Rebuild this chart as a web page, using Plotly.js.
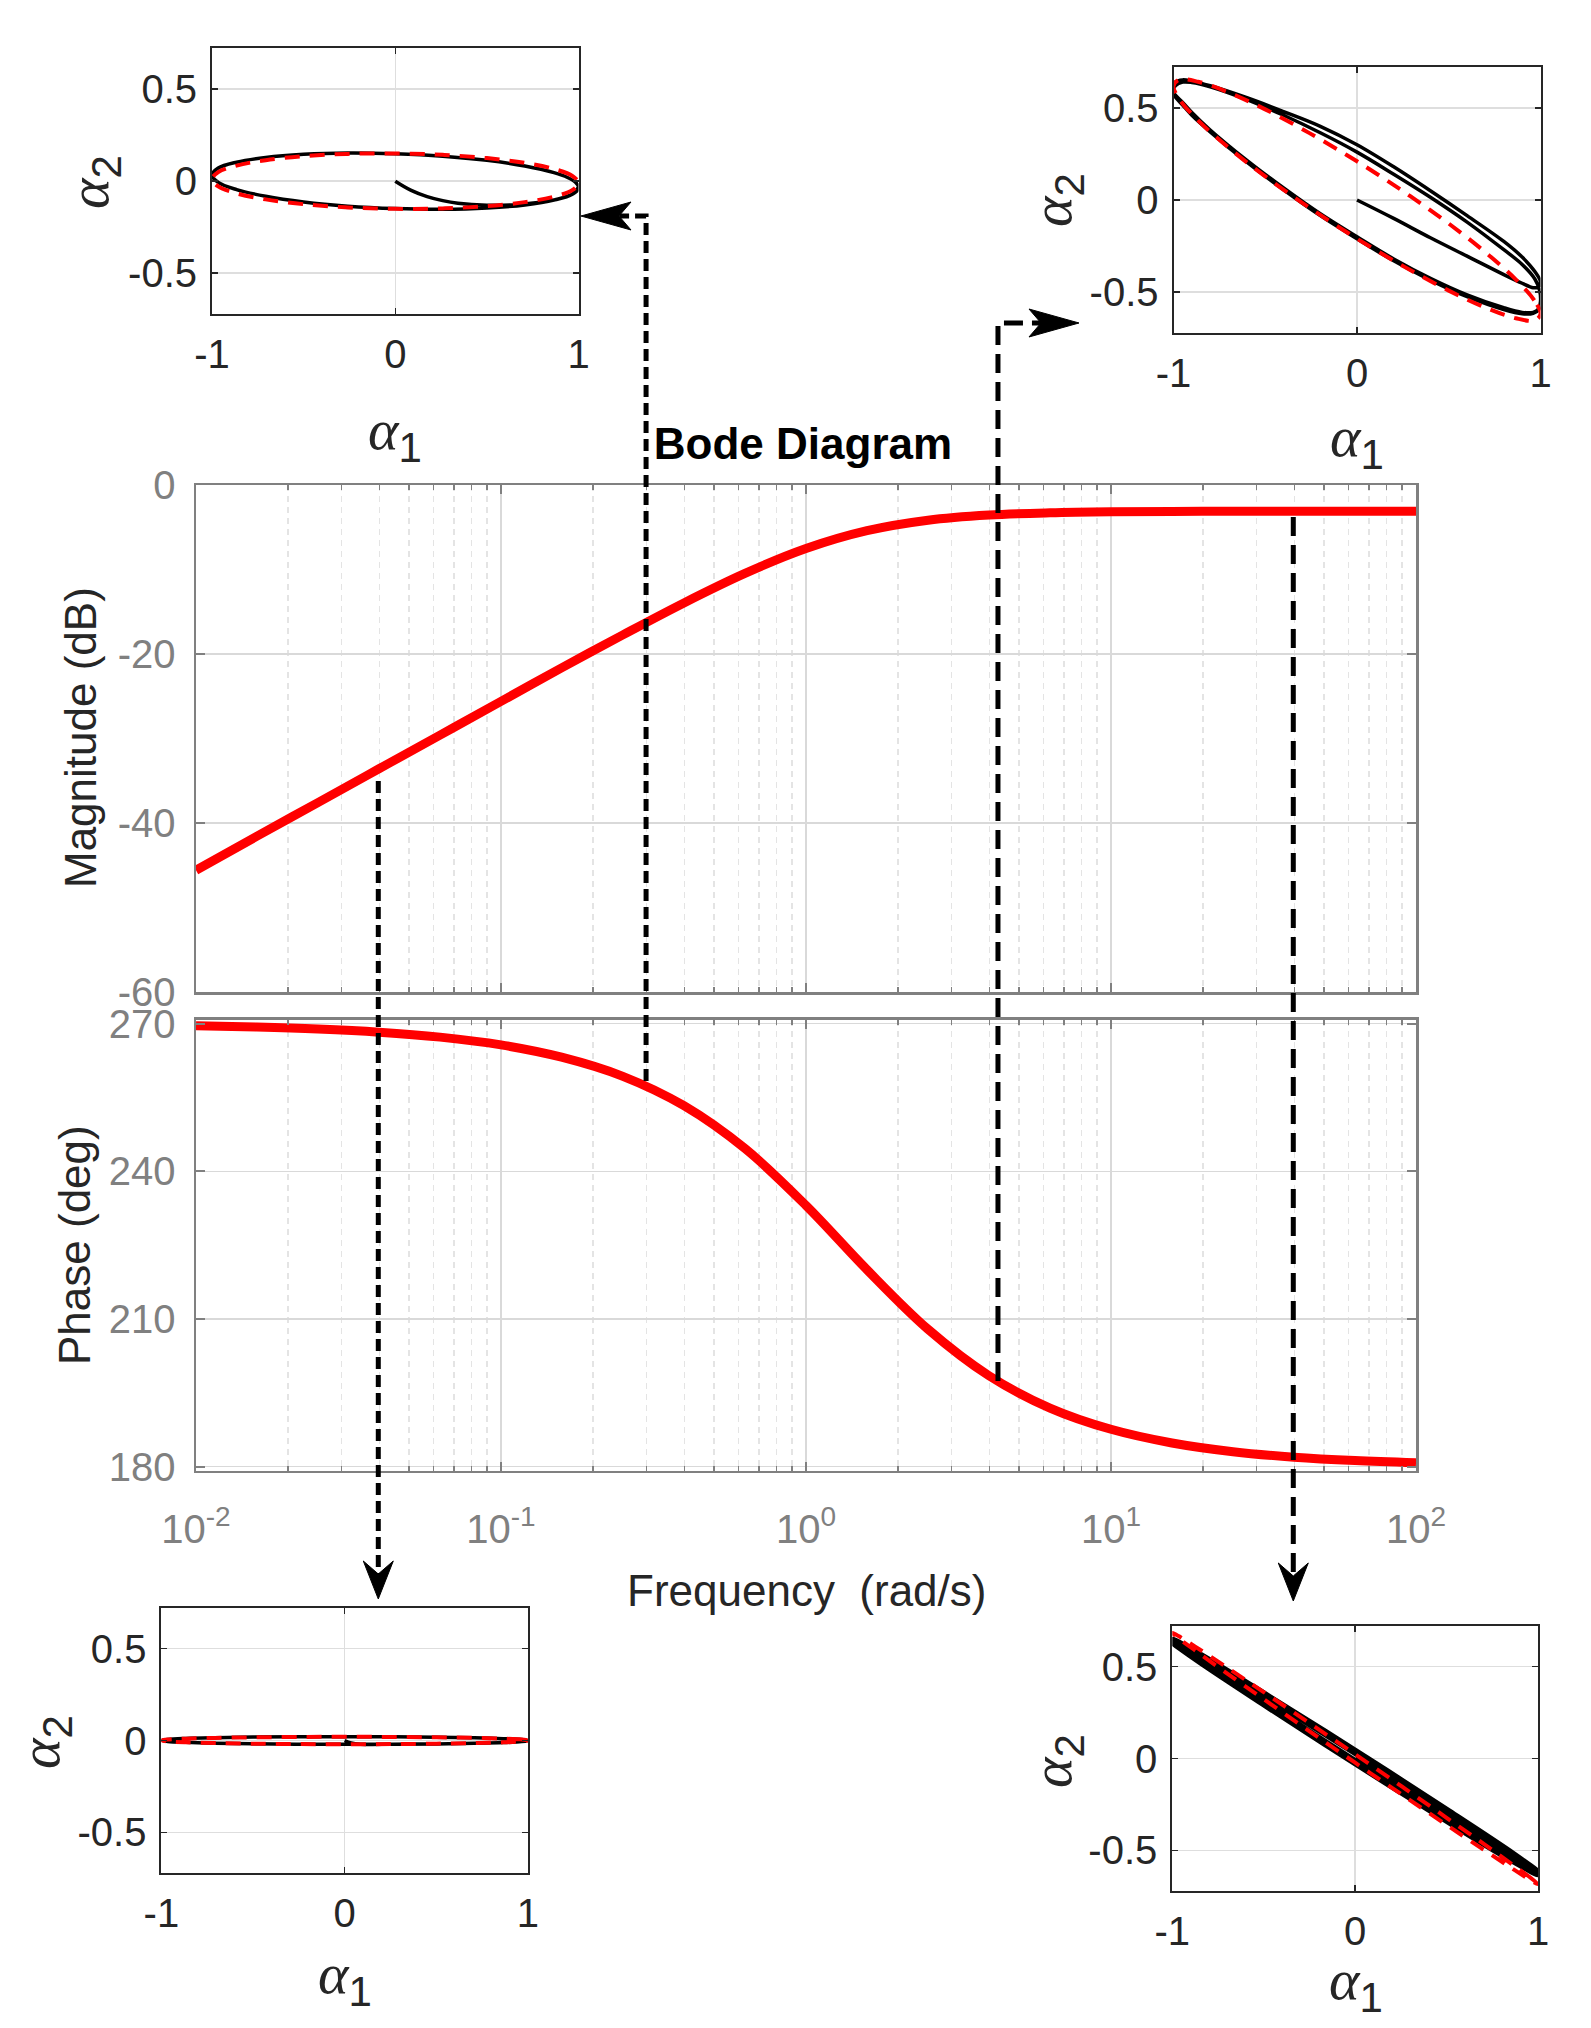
<!DOCTYPE html>
<html>
<head>
<meta charset="utf-8">
<script src="https://cdn.plot.ly/plotly-3.0.1.min.js"></script>
<style>html,body{margin:0;padding:0;background:#ffffff;}</style>
</head>
<body>
<div id="chart" style="width:1591px;height:2028px;"></div>
<script>
// ---------------- Bode data ----------------
const freq = [0.01, 0.0158, 0.0251, 0.0398, 0.0631, 0.1, 0.158, 0.251, 0.398, 0.631, 1, 1.585, 2.512, 3.981, 6.31, 10, 15.85, 25.12, 39.81, 63.1, 100];
const magDb = [-45.58, -41.58, -37.58, -33.58, -29.59, -25.60, -21.64, -17.73, -13.95, -10.46, -7.52, -5.41, -4.17, -3.56, -3.29, -3.17, -3.13, -3.11, -3.10, -3.10, -3.10];
const phaseDeg = [269.57, 269.32, 268.92, 268.29, 267.28, 265.70, 263.20, 259.31, 253.34, 244.62, 233.06, 220.00, 207.91, 198.47, 191.90, 187.58, 184.80, 183.03, 181.91, 181.21, 180.76];

// frequencies at which the phase portraits were taken
const markerFreqs = [0.0396, 0.299, 4.26, 39.6];

// tick labels
const freqTickVals = [0.01, 0.1, 1, 10, 100];
const freqTickText = ['10<sup>-2</sup>', '10<sup>-1</sup>', '10<sup>0</sup>', '10<sup>1</sup>', '10<sup>2</sup>'];
const magTickVals = [-60, -40, -20, 0];
const magTickText = ['-60', '-40', '-20', '0'];
const phaseTickVals = [180, 210, 240, 270];
const phaseTickText = ['180', '210', '240', '270'];
const a1TickVals = [-1, 0, 1];
const a1TickText = ['-1', '0', '1'];
const a2TickVals = [-0.5, 0, 0.5];
const a2TickText = ['-0.5', '0', '0.5'];

// ---------------- phase portraits (alpha1, alpha2) ----------------
// top-left (w ~ 0.3 rad/s)
const tlBlackX = [0, 0.087, 0.174, 0.259, 0.342, 0.5, 0.643, 0.766, 0.866, 0.94, 0.985, 1, 0.985, 0.94, 0.866, 0.707, 0.5, 0.259, 0, -0.259, -0.5, -0.707, -0.866, -0.966, -1, -0.966, -0.866, -0.707, -0.5, -0.259, 0, 0.259, 0.5, 0.707, 0.866, 0.966, 1];
const tlBlackY = [0, -0.050, -0.084, -0.106, -0.120, -0.131, -0.129, -0.118, -0.102, -0.082, -0.059, -0.033, -0.007, 0.020, 0.046, 0.082, 0.113, 0.136, 0.149, 0.153, 0.146, 0.129, 0.103, 0.071, 0.033, -0.007, -0.046, -0.082, -0.113, -0.136, -0.149, -0.153, -0.146, -0.129, -0.103, -0.071, -0.033];
const tlRedX = [1, 0.966, 0.866, 0.707, 0.5, 0.259, 0, -0.259, -0.5, -0.707, -0.866, -0.966, -1, -0.966, -0.866, -0.707, -0.5, -0.259, 0, 0.259, 0.5, 0.707, 0.866, 0.966, 1];
const tlRedY = [-0.0105, 0.0288, 0.0662, 0.0991, 0.1252, 0.1428, 0.1506, 0.1482, 0.1357, 0.1140, 0.0844, 0.0492, 0.0105, -0.0288, -0.0662, -0.0991, -0.1252, -0.1428, -0.1506, -0.1482, -0.1357, -0.1140, -0.0844, -0.0492, -0.0105];

// top-right (w ~ 4.3 rad/s)
const trBlackX = [0, 0.2, 0.4, 0.6, 0.8, 0.9, 0.96, 0.99, 1.0,
  0.97, 0.9, 0.8, 0.6, 0.4, 0.2, 0, -0.2, -0.4, -0.6, -0.8, -0.9, -0.95, -0.99, -1.005,
  -0.995, -0.95, -0.9, -0.8, -0.6, -0.4, -0.2, 0, 0.2, 0.4, 0.6, 0.8, 0.9, 0.96, 0.99, 1.0,
  0.995, 0.97, 0.9, 0.8, 0.6, 0.4, 0.2, 0, -0.2, -0.4, -0.6, -0.8, -0.9, -0.95, -0.99, -1.005,
  -0.99, -0.95, -0.9, -0.8, -0.6, -0.4, -0.2, 0, 0.2, 0.4, 0.6, 0.8, 0.9, 0.96, 0.99, 1.0];
const trBlackY = [0, -0.1, -0.205, -0.305, -0.405, -0.452, -0.476, -0.47, -0.445,
  -0.39, -0.31, -0.225, -0.085, 0.05, 0.18, 0.30, 0.40, 0.48, 0.555, 0.62, 0.645, 0.652, 0.64, 0.60,
  0.575, 0.53, 0.475, 0.38, 0.215, 0.065, -0.075, -0.2, -0.32, -0.425, -0.515, -0.585, -0.61, -0.61, -0.59, -0.55,
  -0.49, -0.43, -0.35, -0.27, -0.12, 0.015, 0.14, 0.26, 0.365, 0.46, 0.545, 0.615, 0.638, 0.64, 0.62, 0.585,
  0.56, 0.515, 0.46, 0.37, 0.205, 0.055, -0.085, -0.21, -0.33, -0.435, -0.525, -0.595, -0.618, -0.615, -0.595, -0.56];
const trRedX = [1, 0.966, 0.866, 0.707, 0.5, 0.259, 0, -0.259, -0.5, -0.707, -0.866, -0.966, -1, -0.966, -0.866, -0.707, -0.5, -0.259, 0, 0.259, 0.5, 0.707, 0.866, 0.966, 1];
const trRedY = [-0.620, -0.545, -0.432, -0.290, -0.128, 0.042, 0.210, 0.363, 0.492, 0.587, 0.642, 0.654, 0.620, 0.545, 0.432, 0.290, 0.128, -0.042, -0.210, -0.363, -0.492, -0.587, -0.642, -0.654, -0.620];

// bottom-left (w ~ 0.04 rad/s)
const blBlackX = [0, 0.035, 0.087, 0.259, 0.5, 0.707, 0.866, 0.966, 1, 0.966, 0.866, 0.707, 0.5, 0.259, 0, -0.259, -0.5, -0.707, -0.866, -0.966, -1, -0.966, -0.866, -0.707, -0.5, -0.259, 0, 0.259, 0.5, 0.707, 0.866, 0.966, 1];
const blBlackY = [0, -0.013, -0.020, -0.0205, -0.0186, -0.0153, -0.0112, -0.0060, -0.0006, 0.0049, 0.0100, 0.0144, 0.0179, 0.0201, 0.0210, 0.0206, 0.0186, 0.0153, 0.0112, 0.0060, 0.0006, -0.0049, -0.0100, -0.0144, -0.0179, -0.0201, -0.0210, -0.0206, -0.0186, -0.0153, -0.0112, -0.0060, -0.0006];
const blRedX = [1, 0.966, 0.866, 0.707, 0.5, 0.259, 0, -0.259, -0.5, -0.707, -0.866, -0.966, -1, -0.966, -0.866, -0.707, -0.5, -0.259, 0, 0.259, 0.5, 0.707, 0.866, 0.966, 1];
const blRedY = [0, 0.0052, 0.0100, 0.0141, 0.0173, 0.0193, 0.0200, 0.0193, 0.0173, 0.0141, 0.0100, 0.0052, 0, -0.0052, -0.0100, -0.0141, -0.0173, -0.0193, -0.0200, -0.0193, -0.0173, -0.0141, -0.0100, -0.0052, 0];

// bottom-right (w ~ 40 rad/s)
const brBlackX = [0, 0.5, 0.866, 1, 0.866, 0.5, 0, -0.5, -0.866, -1, -0.866, -0.5, 0, 0.5, 0.866, 1, 0.866, 0.5, 0, -0.5, -0.866, -1];
const brBlackY = [0, -0.333, -0.555, -0.626, -0.527, -0.285, 0.036, 0.349, 0.571, 0.642, 0.543, 0.301, -0.020, -0.333, -0.555, -0.626, -0.527, -0.285, 0.036, 0.349, 0.571, 0.642];
const brRedX = [1, 0.966, 0.866, 0.707, 0.5, 0.259, 0, -0.259, -0.5, -0.707, -0.866, -0.966, -1, -0.966, -0.866, -0.707, -0.5, -0.259, 0, 0.259, 0.5, 0.707, 0.866, 0.966, 1];
const brRedY = [-0.685, -0.655, -0.582, -0.468, -0.323, -0.155, 0.023, 0.199, 0.362, 0.500, 0.604, 0.667, 0.685, 0.655, 0.582, 0.468, 0.323, 0.155, -0.023, -0.199, -0.362, -0.500, -0.604, -0.667, -0.685];

// ---------------- layout helpers ----------------
const W = 1591, H = 2028;
const px = v => v / W;
const py = v => 1 - v / H;
const FONT = 'Liberation Sans, Arial, Helvetica, sans-serif';
const GRAY = '#808080';
const DARK = '#262626';
const MAIN_L = 196, MAIN_R = 1416;
const fx = f => MAIN_L + (Math.log10(f) + 2) / 4 * (MAIN_R - MAIN_L);

const minorVals = [];
for (let e = -2; e < 2; e++) for (let m = 2; m <= 9; m++) minorVals.push(m * Math.pow(10, e));

const mainX = {
  type: 'log', range: [-2, 2], domain: [px(MAIN_L), px(MAIN_R)],
  tickmode: 'array', tickvals: freqTickVals, ticktext: freqTickText,
  ticks: 'inside', ticklen: 9, tickwidth: 2, tickcolor: GRAY,
  showline: true, linecolor: GRAY, linewidth: 2.5, mirror: 'ticks',
  showgrid: true, gridcolor: '#d9d9d9', gridwidth: 1.5, zeroline: false,
  minor: {tickmode: 'array', tickvals: minorVals, ticks: 'inside', ticklen: 5, tickwidth: 1.5, tickcolor: GRAY,
          showgrid: true, gridcolor: '#e4e4e4', gridwidth: 1.5, griddash: '6px,5px'},
  tickfont: {family: FONT, size: 40, color: GRAY},
  ticklabelstandoff: 22, fixedrange: true
};
const mainY = {
  ticks: 'inside', ticklen: 9, tickwidth: 2, tickcolor: GRAY,
  showline: true, linecolor: GRAY, linewidth: 2.5, mirror: 'ticks',
  showgrid: true, gridcolor: '#d9d9d9', gridwidth: 1.5, zeroline: false,
  tickmode: 'array',
  tickfont: {family: FONT, size: 40, color: GRAY},
  ticklabelstandoff: 10, fixedrange: true
};
function insetX(l, r, anchor) {
  return {domain: [px(l), px(r)], anchor: anchor, range: [-1, 1],
    tickmode: 'array', tickvals: a1TickVals, ticktext: a1TickText,
    ticks: 'inside', ticklen: 6, tickwidth: 1.5, tickcolor: DARK,
    showline: true, linecolor: DARK, linewidth: 2, mirror: 'ticks',
    showgrid: true, gridcolor: '#dedede', gridwidth: 1.5, zeroline: false,
    tickfont: {family: FONT, size: 40, color: DARK}, ticklabelstandoff: 4, fixedrange: true};
}
function insetY(top, bottom, anchor) {
  return {domain: [py(bottom), py(top)], anchor: anchor, range: [-0.722, 0.722],
    tickmode: 'array', tickvals: a2TickVals, ticktext: a2TickText,
    ticks: 'inside', ticklen: 6, tickwidth: 1.5, tickcolor: DARK,
    showline: true, linecolor: DARK, linewidth: 2, mirror: 'ticks',
    showgrid: true, gridcolor: '#dedede', gridwidth: 1.5, zeroline: false,
    tickfont: {family: FONT, size: 40, color: DARK}, ticklabelstandoff: 5, fixedrange: true};
}

// ---------------- traces ----------------
const sp = {shape: 'spline', smoothing: 1};
function blk(x, y, xa, ya, w) {
  return {x: x, y: y, xaxis: xa, yaxis: ya, mode: 'lines', hoverinfo: 'skip',
          line: Object.assign({color: '#000000', width: w || 3.5}, sp)};
}
function red(x, y, xa, ya) {
  return {x: x, y: y, xaxis: xa, yaxis: ya, mode: 'lines', hoverinfo: 'skip',
          line: Object.assign({color: '#ff0000', width: 4, dash: '15px,10px'}, sp)};
}
const traces = [
  {x: freq, y: magDb, xaxis: 'x2', yaxis: 'y2', mode: 'lines', line: Object.assign({color: '#ff0000', width: 9}, sp)},
  {x: freq, y: phaseDeg, xaxis: 'x', yaxis: 'y', mode: 'lines', line: Object.assign({color: '#ff0000', width: 9}, sp)},
  blk(tlBlackX, tlBlackY, 'x3', 'y3'), red(tlRedX, tlRedY, 'x3', 'y3'),
  blk(trBlackX, trBlackY, 'x4', 'y4'), red(trRedX, trRedY, 'x4', 'y4'),
  blk(blBlackX, blBlackY, 'x5', 'y5'), red(blRedX, blRedY, 'x5', 'y5'),
  blk(brBlackX, brBlackY, 'x6', 'y6', 8), red(brRedX, brRedY, 'x6', 'y6')
];

// ---------------- connector arrows ----------------
const P = (x, y) => px(x).toFixed(5) + ',' + py(y).toFixed(5);
const shapes = [];
function dashed(pts, dash) {
  shapes.push({type: 'path', xref: 'paper', yref: 'paper', layer: 'above',
    path: 'M ' + pts.map(p => P(p[0], p[1])).join(' L '),
    line: {color: '#000000', width: 5, dash: dash}});
}
function head(pts) {
  shapes.push({type: 'path', xref: 'paper', yref: 'paper', layer: 'above',
    path: 'M ' + pts.map(p => P(p[0], p[1])).join(' L ') + ' Z',
    fillcolor: '#000000', line: {color: '#000000', width: 1}});
}
const xA = fx(markerFreqs[0]), xB = fx(markerFreqs[1]), xC = fx(markerFreqs[2]), xD = fx(markerFreqs[3]);
// line 1 : magnitude -> bottom-left portrait
dashed([[xA, 781], [xA, 1574]], '12px,6px');
head([[xA, 1599], [xA - 15, 1561], [xA, 1574], [xA + 15, 1561]]);
// line 2 : phase -> top-left portrait
dashed([[xB, 1081], [xB, 216], [620, 216]], '12px,6px');
head([[581, 216], [631, 202], [619, 216], [631, 230]]);
// line 3 : phase -> top-right portrait
dashed([[xC, 1381], [xC, 323], [1041, 323]], '19px,9px');
head([[1079, 323], [1029, 309], [1041, 323], [1029, 337]]);
// line 4 : magnitude -> bottom-right portrait
dashed([[xD, 517], [xD, 1575]], '19px,9px');
head([[xD, 1601], [xD - 15, 1563], [xD, 1576], [xD + 15, 1563]]);

// ---------------- text ----------------
const A1 = '<span style="font-family:Liberation Serif;font-style:italic;font-size:58px">α</span><sub>1</sub>';
const A2 = '<span style="font-family:Liberation Serif;font-style:italic;font-size:58px">α</span><sub>2</sub>';
function ann(text, x, y, size, color, angle) {
  return {text: text, x: px(x), y: py(y), xref: 'paper', yref: 'paper', showarrow: false,
          xanchor: 'center', yanchor: 'middle', textangle: angle || 0,
          font: {family: FONT, size: size, color: color}};
}
const annotations = [
  ann('Magnitude (dB)', 81, 738, 44, DARK, -90),
  ann('Phase (deg)', 74, 1245, 44, DARK, -90),
  ann('Frequency\u00a0\u00a0(rad/s)', 806, 1590, 44, DARK),
  ann(A1, 395, 434, 60, DARK), ann(A2, 93, 182, 60, DARK, -90),
  ann(A1, 1357, 441, 60, DARK), ann(A2, 1056, 200, 60, DARK, -90),
  ann(A1, 345, 1978, 60, DARK), ann(A2, 44, 1742, 60, DARK, -90),
  ann(A1, 1356, 1984, 60, DARK), ann(A2, 1056, 1761, 60, DARK, -90)
];

const layout = {
  width: W, height: H, margin: {l: 0, r: 0, t: 0, b: 0},
  paper_bgcolor: '#ffffff', plot_bgcolor: '#ffffff', showlegend: false, hovermode: false,
  title: {text: '<b>Bode Diagram</b>', x: px(803), y: py(444), xref: 'paper', yref: 'paper',
          xanchor: 'center', yanchor: 'middle', font: {family: FONT, size: 44, color: '#000000'}},
  xaxis: Object.assign({}, mainX, {anchor: 'y'}),
  xaxis2: Object.assign({}, mainX, {anchor: 'y2', showticklabels: false}),
  yaxis: Object.assign({}, mainY, {domain: [py(1470.5), py(1019.8)], range: [179.2, 270.8],
          tickvals: phaseTickVals, ticktext: phaseTickText, anchor: 'x'}),
  yaxis2: Object.assign({}, mainY, {domain: [py(992.1), py(485)], range: [-60, 0],
          tickvals: magTickVals, ticktext: magTickText, anchor: 'x2'}),
  xaxis3: insetX(212, 578.5, 'y3'), yaxis3: insetY(48.3, 314, 'x3'),
  xaxis4: insetX(1173.5, 1540.5, 'y4'), yaxis4: insetY(67, 333, 'x4'),
  xaxis5: insetX(161.4, 527.9, 'y5'), yaxis5: insetY(1607.7, 1873.3, 'x5'),
  xaxis6: insetX(1172.3, 1538, 'y6'), yaxis6: insetY(1626, 1891, 'x6'),
  shapes: shapes,
  annotations: annotations
};

Plotly.newPlot('chart', traces, layout, {staticPlot: true, displayModeBar: false});
</script>
</body>
</html>
